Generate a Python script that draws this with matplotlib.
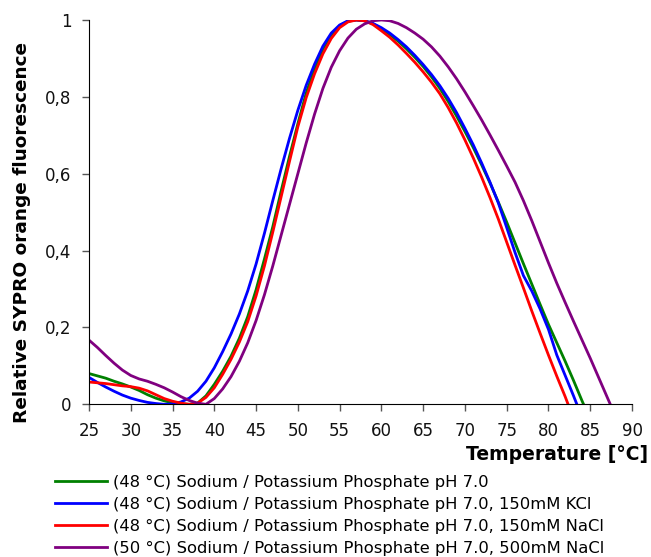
import matplotlib
matplotlib.use("Agg")
import matplotlib.pyplot as plt

# Data (temperature in °C, relative fluorescence)
temp_base = list(range(25, 85)) + [84.2]
fl_base = [0.080, 0.074, 0.068, 0.060, 0.053, 0.045, 0.036, 0.025, 0.016, 0.009,
           0.004, 0.001, 0.000, 0.003, 0.022, 0.052, 0.086, 0.125, 0.172, 0.228,
           0.298, 0.378, 0.462, 0.555, 0.645, 0.730, 0.810, 0.872, 0.924, 0.961,
           0.985, 0.997, 1.000, 0.998, 0.990, 0.977, 0.962, 0.945, 0.925, 0.903,
           0.879, 0.852, 0.822, 0.788, 0.750, 0.710, 0.668, 0.623, 0.576, 0.526,
           0.474, 0.420, 0.366, 0.313, 0.260, 0.208, 0.160, 0.112, 0.062, 0.010,
           0.000]

temp_kcl = list(range(25, 84)) + [83.4]
fl_kcl = [0.070, 0.057, 0.045, 0.034, 0.024, 0.016, 0.010, 0.005, 0.002, 0.000,
          0.001, 0.006, 0.016, 0.034, 0.060, 0.095, 0.137, 0.183, 0.235, 0.295,
          0.365, 0.445, 0.530, 0.613, 0.692, 0.765, 0.830, 0.885, 0.932, 0.966,
          0.987, 0.998, 1.000, 0.998, 0.991, 0.980, 0.966, 0.949, 0.930, 0.908,
          0.884, 0.858, 0.829, 0.796, 0.759, 0.718, 0.675, 0.628, 0.578, 0.524,
          0.460, 0.395, 0.335, 0.295, 0.248, 0.195, 0.128, 0.075, 0.022, 0.000]

temp_nacl150 = list(range(25, 83)) + [82.35]
fl_nacl150 = [0.058, 0.056, 0.054, 0.051, 0.048, 0.046, 0.042, 0.035, 0.025, 0.015,
              0.008, 0.003, 0.000, 0.003, 0.018, 0.043, 0.078, 0.117, 0.162, 0.215,
              0.282, 0.360, 0.448, 0.540, 0.632, 0.722, 0.798, 0.860, 0.912, 0.952,
              0.980, 0.995, 1.000, 0.998, 0.988, 0.972, 0.955, 0.935, 0.913, 0.890,
              0.865, 0.838, 0.808, 0.772, 0.732, 0.688, 0.641, 0.591, 0.538, 0.482,
              0.422, 0.362, 0.303, 0.243, 0.185, 0.128, 0.073, 0.020, 0.000]

temp_nacl500 = list(range(25, 88)) + [87.4]
fl_nacl500 = [0.167, 0.148, 0.127, 0.107, 0.089, 0.075, 0.066, 0.060, 0.052, 0.043,
              0.032, 0.020, 0.010, 0.003, 0.000, 0.015, 0.040, 0.072, 0.112, 0.160,
              0.218, 0.285, 0.360, 0.440, 0.520, 0.600, 0.680, 0.755, 0.822, 0.877,
              0.920, 0.953, 0.976, 0.990, 0.998, 1.000, 0.998, 0.991, 0.980, 0.966,
              0.950, 0.930, 0.906, 0.878, 0.847, 0.813, 0.777, 0.740, 0.701, 0.661,
              0.620, 0.578, 0.530, 0.478, 0.423, 0.368, 0.315, 0.265, 0.216, 0.168,
              0.120, 0.070, 0.020, 0.000]

labels = [
    "(48 °C) Sodium / Potassium Phosphate pH 7.0",
    "(48 °C) Sodium / Potassium Phosphate pH 7.0, 150mM KCl",
    "(48 °C) Sodium / Potassium Phosphate pH 7.0, 150mM NaCl",
    "(50 °C) Sodium / Potassium Phosphate pH 7.0, 500mM NaCl",
]
colors = ["#008000", "#0000ff", "#ff0000", "#800080"]

x_ticks = list(range(25, 95, 5))
y_ticks = [0, 0.2, 0.4, 0.6, 0.8, 1.0]
y_tick_labels = ["0", "0,2", "0,4", "0,6", "0,8", "1"]

plt.rcParams["font.family"] = "DejaVu Sans"

fig = plt.figure(figsize=(6.51, 5.57), dpi=100)
ax = fig.add_axes([89 / 651, 152.7 / 557, 543 / 651, 384.3 / 557])

series = [(temp_base, fl_base), (temp_kcl, fl_kcl),
          (temp_nacl150, fl_nacl150), (temp_nacl500, fl_nacl500)]
for (t, f), c, lab in zip(series, colors, labels):
    ax.plot(t, f, color=c, lw=2.0, label=lab, solid_joinstyle="round")

ax.set_xlim(25, 90)
ax.set_ylim(0, 1)
ax.set_xticks(x_ticks)
ax.set_yticks(y_ticks)
ax.set_yticklabels(y_tick_labels)
ax.tick_params(axis="both", labelsize=12, length=5, width=1, direction="out",
               colors="#555555", labelcolor="#111111", pad=7.5)
ax.spines["top"].set_visible(False)
ax.spines["right"].set_visible(False)
ax.spines["left"].set_linewidth(0.8)
ax.spines["bottom"].set_linewidth(0.8)

fig.text(648 / 651, 1 - 455 / 557, "Temperature [°C]", ha="right", va="center",
         fontsize=13.5, fontweight="bold")
fig.text(21.7 / 651, 1 - 233 / 557, "Relative SYPRO orange fluorescence",
         rotation=90, ha="center", va="center", fontsize=13.3, fontweight="bold")

fig.legend(loc="upper left", bbox_to_anchor=(55 / 651, 1 - 475 / 557),
           frameon=False, fontsize=11.75, handlelength=3.2, handletextpad=0.37,
           labelspacing=0.43, borderaxespad=0, borderpad=0)

fig.savefig("out.png", dpi=100)
